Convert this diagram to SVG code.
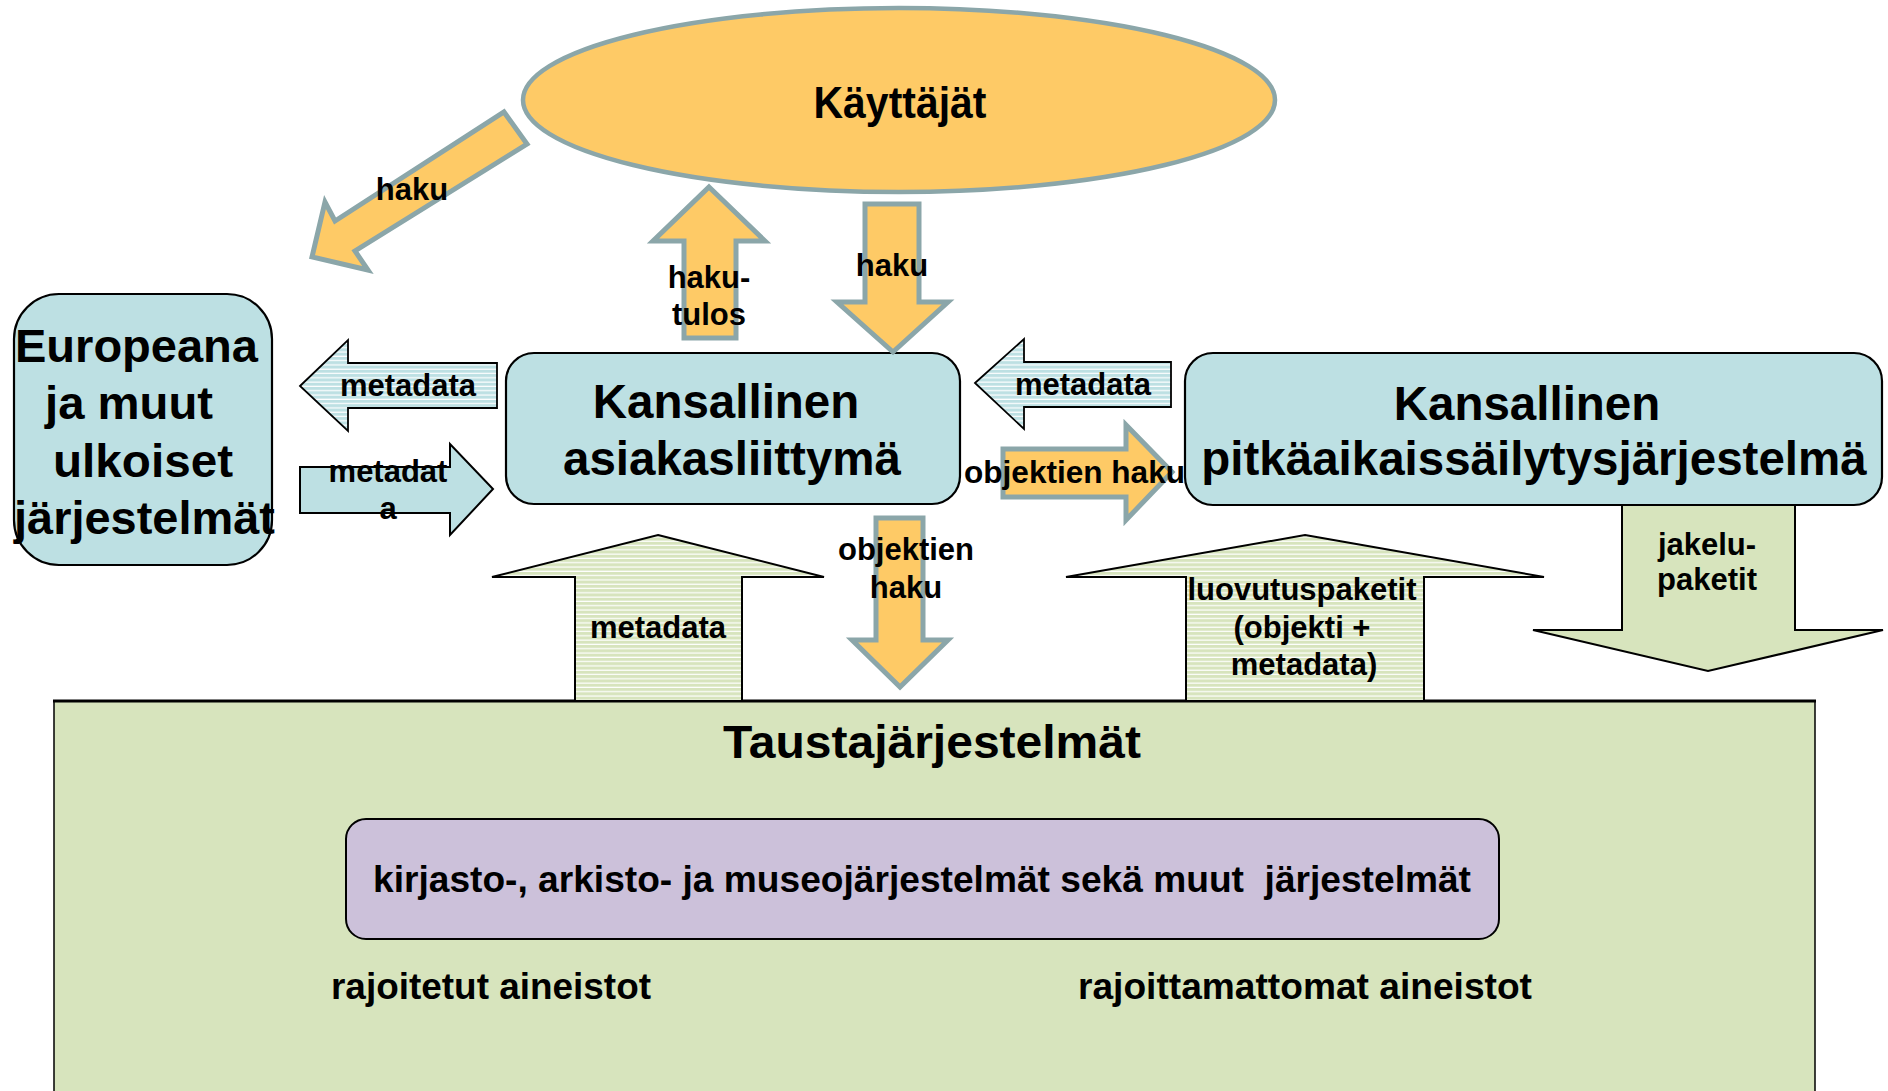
<svg xmlns="http://www.w3.org/2000/svg" width="1888" height="1091" viewBox="0 0 1888 1091">
<defs>
<pattern id="stripeBlue" width="8" height="4.3" patternUnits="userSpaceOnUse"><rect width="8" height="4.3" fill="#BDE0E3"/><rect y="3.1" width="8" height="1.2" fill="#FFFFFF"/></pattern>
<pattern id="stripeGreen" width="8" height="4.3" patternUnits="userSpaceOnUse"><rect width="8" height="4.3" fill="#D7E4BD"/><rect y="3.1" width="8" height="1.2" fill="#FFFFFF"/></pattern>
</defs>
<style>
text{font-family:"Liberation Sans",Arial,sans-serif;font-weight:bold;fill:#000}
.lbl{font-size:31px;text-anchor:middle}
.big{font-size:47.5px;text-anchor:middle}
.orange{fill:#FECA66;stroke:#8BA6A9;stroke-width:5;stroke-linejoin:miter}
.blue{fill:#BDE0E3;stroke:#000;stroke-width:2}
.blueS{fill:url(#stripeBlue);stroke:#000;stroke-width:1.8}
.greenS{fill:url(#stripeGreen);stroke:#000;stroke-width:2}
.green{fill:#D7E4BD;stroke:#000;stroke-width:2}
.box{fill:#BDE0E3;stroke:#000;stroke-width:2.2}
</style>
<rect width="1888" height="1091" fill="#FFFFFF"/>

<g id="taustajarjestelmat">
<rect x="54" y="701" width="1761" height="420" fill="#D7E4BD" stroke="#000" stroke-width="1.5"/>
<line x1="53" y1="701" x2="1816" y2="701" stroke="#000" stroke-width="3"/>
<text x="932" y="758" style="font-size:47px;text-anchor:middle" textLength="418" lengthAdjust="spacingAndGlyphs">Taustajärjestelmät</text>
<text x="331" y="999" style="font-size:36px" textLength="320" lengthAdjust="spacingAndGlyphs">rajoitetut aineistot</text>
<text x="1078" y="999" style="font-size:36px" textLength="454" lengthAdjust="spacingAndGlyphs">rajoittamattomat aineistot</text>
</g>

<g id="kirjastojarjestelmat">
<rect x="346" y="819" width="1153" height="120" rx="20" fill="#CCC1DA" stroke="#000" stroke-width="2"/>
<text x="373" y="892" style="font-size:36px;white-space:pre" xml:space="preserve" textLength="1098" lengthAdjust="spacingAndGlyphs">kirjasto-, arkisto- ja museojärjestelmät sekä muut  järjestelmät</text>
</g>

<g id="kayttajat">
<ellipse cx="899" cy="100" rx="376" ry="92" fill="#FECA66" stroke="#8BA6A9" stroke-width="4.5"/>
<text x="900" y="118" style="font-size:45px;text-anchor:middle" textLength="173" lengthAdjust="spacingAndGlyphs">Käyttäjät</text>
</g>

<g id="europeana">
<rect x="14" y="294" width="258" height="271" rx="45" class="box"/>
<text x="15" y="362" style="font-size:46px" textLength="243" lengthAdjust="spacingAndGlyphs">Europeana</text>
<text x="45" y="419" style="font-size:46px" textLength="168" lengthAdjust="spacingAndGlyphs">ja muut</text>
<text x="53" y="477" style="font-size:46px" textLength="180" lengthAdjust="spacingAndGlyphs">ulkoiset</text>
<text x="14" y="534" style="font-size:46px" textLength="261" lengthAdjust="spacingAndGlyphs">järjestelmät</text>
</g>

<g id="asiakasliittyma">
<rect x="506" y="353" width="454" height="151" rx="28" class="box"/>
<text x="726" y="418" class="big">Kansallinen</text>
<text x="732" y="475" class="big">asiakasliittymä</text>
</g>

<g id="pitkaaikaissailytys">
<rect x="1185" y="353" width="697" height="152" rx="28" class="box"/>
<text x="1527" y="420" class="big">Kansallinen</text>
<text x="1534" y="475" class="big">pitkäaikaissäilytysjärjestelmä</text>
</g>

<g id="connectors">
<g id="c-haku-europeana">
<polygon class="orange" points="504,112 527,144 355,251 368,270 312,257 325,202 335,221"/>
<text x="412" y="200" class="lbl">haku</text>
</g>
<g id="c-hakutulos">
<polygon class="orange" points="709,187 765,241 736,241 736,338 684,338 684,241 653,241"/>
<text x="709" y="288" class="lbl">haku-</text>
<text x="709" y="325" class="lbl">tulos</text>
</g>
<g id="c-haku-asiakas">
<polygon class="orange" points="865,204 919,204 919,302 948,302 893,352 837,302 865,302"/>
<text x="892" y="276" class="lbl">haku</text>
</g>
<g id="c-metadata-to-europeana">
<polygon class="blueS" points="300,386 348,340 348,363 497,363 497,408 348,408 348,431"/>
<text x="408" y="396" class="lbl">metadata</text>
</g>
<g id="c-metadata-from-europeana">
<polygon class="blue" points="300,467 450,467 450,444 493,489 450,535 450,513 300,513"/>
<text x="388" y="482" class="lbl">metadat</text>
<text x="388" y="519" class="lbl">a</text>
</g>
<g id="c-metadata-from-pitka">
<polygon class="blueS" points="975,383 1024,339 1024,362 1171,362 1171,407 1024,407 1024,429"/>
<text x="1083" y="395" class="lbl">metadata</text>
</g>
<g id="c-objektien-haku-pitka">
<polygon class="orange" points="1003,449 1126,449 1126,425 1172,472 1126,520 1126,497 1003,497"/>
<text x="964" y="483" style="font-size:31px" textLength="221" lengthAdjust="spacingAndGlyphs">objektien haku</text>
</g>
<g id="c-objektien-haku-tausta">
<polygon class="orange" points="876,518 923,518 923,640 948,640 900,687 852,640 876,640"/>
<text x="906" y="560" class="lbl">objektien</text>
<text x="906" y="598" class="lbl">haku</text>
</g>
<g id="c-metadata-up">
<polygon class="greenS" points="658,535 824,577 742,577 742,701 575,701 575,577 492,577"/>
<text x="658" y="638" class="lbl">metadata</text>
</g>
<g id="c-luovutuspaketit">
<polygon class="greenS" points="1305,535 1544,577 1424,577 1424,701 1186,701 1186,577 1066,577"/>
<text x="1302" y="600" class="lbl">luovutuspaketit</text>
<text x="1302" y="638" class="lbl">(objekti +</text>
<text x="1304" y="675" class="lbl">metadata)</text>
</g>
<g id="c-jakelupaketit">
<polygon class="green" points="1622,505 1795,505 1795,630 1883,630 1708,671 1533,630 1622,630"/>
<text x="1707" y="555" class="lbl">jakelu-</text>
<text x="1707" y="590" class="lbl">paketit</text>
</g>
</g>
</svg>
